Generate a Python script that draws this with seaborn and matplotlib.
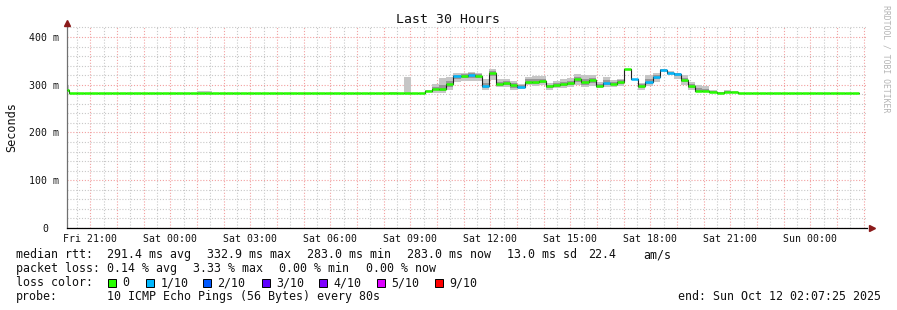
import numpy as np
import pandas as pd
import matplotlib
matplotlib.use("Agg")
import matplotlib.pyplot as plt
import matplotlib.dates as mdates
from matplotlib.patches import Rectangle
from matplotlib.ticker import MultipleLocator, FixedLocator, FuncFormatter
from matplotlib.transforms import ScaledTranslation
import seaborn as sns

# ------------------------------------------------------------------ data
title = "Last 30 Hours"
t_start = "2025-10-10 20:07:25"
t_end = "2025-10-12 02:07:25"
first_full_bin = "2025-10-10 20:13:00"
n_full_bins = 111
bin_freq = "16min"

active_median = [292, 292, 301.6, 318, 319, 320, 319, 298, 324, 301, 304, 299.5, 296,
                 306, 306, 308.5, 297, 299.5, 301, 303, 311, 305, 310, 297, 304, 302,
                 305, 333, 312, 297, 305, 315.5, 331, 325, 322, 310, 298, 287.5, 287.5,
                 285.5, 283.5, 285, 284]
active_lo = [283, 283, 289, 306, 308, 308, 308, 288, 310, 296, 296, 289, 291,
             299, 298, 299, 290, 293, 294, 296, 300, 296, 298, 293, 296, 296,
             298, 330, 311, 289, 298, 306, 327, 321, 313, 300, 289, 284, 284,
             284, 283, 283, 283]
active_hi = [301, 314, 316, 325, 324, 327, 324, 311, 333, 311, 311, 308, 301,
             317, 318, 319, 304, 308, 312, 314, 322, 320, 321, 306, 316, 310,
             313, 334, 313, 304, 321, 324, 333, 328, 325, 320, 306, 299.5, 297,
             289, 285, 288, 286]
active_ilo = [288, 287, 296, 313, 315, 315, 315, 293, 318, 298, 300, 294, 293,
              302, 302, 304, 293, 296, 297, 299, 305, 300, 304, 295, 300, 299,
              301, 332, 311, 293, 301, 311, 329, 323, 318, 305, 293, 285, 285,
              284, 283, 284, 283]
active_ihi = [296, 300, 308, 321, 322, 324, 322, 304, 328, 305, 307, 304, 299,
              311, 312, 313, 300, 303, 306, 308, 316, 311, 315, 301, 309, 306,
              309, 334, 313, 301, 312, 320, 332, 327, 324, 315, 302, 293, 292,
              287, 284, 286, 285]
active_loss = [0, 0, 0, 1, 0, 1, 0, 1, 0, 0, 0, 0, 1,
               0, 0, 0, 0, 0, 0, 0, 0, 0, 0, 0, 1, 0,
               0, 0, 1, 0, 1, 1, 1, 1, 1, 0, 0, 0, 0,
               0, 0, 0, 0]

median = [288] + [283] * 50 + [286] + active_median + [283] * 17
smoke_lo = [285] + [283] * 50 + [284] + active_lo + [283] * 17
smoke_hi = ([300] + [283] * 18 + [287, 286] + [283] * 25 + [285, 283, 317, 283, 283]
            + [288] + active_hi + [283] * 17)
inner_lo = [287] + [283] * 50 + [285] + active_ilo + [283] * 17
inner_hi = [292] + [283] * 50 + [287] + active_ihi + [283] * 17
loss = [0] * 52 + active_loss + [0] * 17

loss_labels = ["0", "1/10", "2/10", "3/10", "4/10", "5/10", "9/10"]
loss_colors = ["#26ff00", "#00b8ff", "#0059ff", "#5e00ff", "#7e00ff", "#dd00ff", "#ff0000"]

y_ticks = [0, 100, 200, 300, 400]
y_ticklabels = ["0", "100 m", "200 m", "300 m", "400 m"]

rtt_label = "median rtt:"
rtt_stats = ["291.4 ms avg", "332.9 ms max", "283.0 ms min", "283.0 ms now",
             "13.0 ms sd", "22.4", "am/s"]
loss_label = "packet loss:"
loss_stats = ["0.14 % avg", "3.33 % max", "0.00 % min", "0.00 % now"]
probe_label = "probe:"
probe_text = "10 ICMP Echo Pings (56 Bytes) every 80s"
end_text = "end: Sun Oct 12 02:07:25 2025"
watermark = "RRDTOOL / TOBI OETIKER"

# ------------------------------------------------------------------ figure
W, H = 897, 310
sns.set_theme(style="white")
MONO = ["DejaVu Sans Mono", "DejaVu Sans"]
plt.rcParams["font.family"] = MONO

fig = plt.figure(figsize=(W / 100, H / 100), dpi=100, facecolor="white")
ax = fig.add_axes([67 / W, 82 / H, 800 / W, 202 / H])
ax.set_facecolor("white")

edges = [pd.Timestamp(t_start)] + list(pd.date_range(first_full_bin, periods=n_full_bins + 1, freq=bin_freq))
edges_num = mdates.date2num(edges)

# smoke
ax.stairs(smoke_hi, edges_num, baseline=smoke_lo, fill=True, color="#c6c6c6", lw=0, zorder=2)
ax.stairs(inner_hi, edges_num, baseline=inner_lo, fill=True, color="#979797", lw=0, zorder=2.1)

# median step line (black)
df = pd.DataFrame({"t": edges, "rtt": median + [median[-1]]})
sns.lineplot(data=df, x="t", y="rtt", drawstyle="steps-post", color="#202020",
             lw=0.8, estimator=None, ax=ax, zorder=3)

# loss colored median segments
ax.hlines(median, edges_num[:-1], edges_num[1:], colors=[loss_colors[l] for l in loss],
          lw=1.8, zorder=4)

ax.set_xlim(mdates.date2num(pd.Timestamp(t_start)), mdates.date2num(pd.Timestamp(t_end)))
ax.set_ylim(0, 423)

# x axis: hourly red grid, half-hour grey grid, labels every 3h
ax.xaxis.set_major_locator(mdates.HourLocator(interval=1))
ax.xaxis.set_minor_locator(mdates.MinuteLocator(byminute=[30]))
def xfmt(v, pos):
    d = mdates.num2date(v)
    return d.strftime("%a %H:%M") if d.hour % 3 == 0 else ""
ax.xaxis.set_major_formatter(FuncFormatter(xfmt))

ax.yaxis.set_major_locator(FixedLocator(y_ticks))
ax.yaxis.set_minor_locator(MultipleLocator(20))
ax.set_yticklabels(y_ticklabels)

ax.grid(which="major", color="#f2a0a0", linestyle=(0, (1, 1.6)), lw=0.8, zorder=0)
ax.grid(which="minor", color="#c8c8c8", linestyle=(0, (1, 1.6)), lw=0.8, zorder=0)
ax.set_axisbelow(True)

ax.tick_params(axis="both", which="both", direction="out", length=2, width=0.7,
               color="#777777", labelsize=7.1, labelcolor="#111111")
ax.tick_params(axis="x", which="major", pad=2.5)
ax.tick_params(axis="y", which="major", pad=3.5)
ax.tick_params(axis="y", which="minor", length=2)
for lab in ax.get_xticklabels() + ax.get_yticklabels():
    lab.set_fontfamily(MONO)
# "0" sits under the digits column of the other labels
zero_lab = ax.get_yticklabels()[0]
zero_lab.set_transform(zero_lab.get_transform() + ScaledTranslation(-0.11, 0, fig.dpi_scale_trans))

for s in ["top", "right"]:
    ax.spines[s].set_visible(False)
ax.spines["left"].set_color("#707070")
ax.spines["left"].set_linewidth(0.9)
ax.spines["bottom"].set_color("#000000")
ax.spines["bottom"].set_linewidth(0.9)
ax.set_xlabel("")
ax.set_ylabel("")

# axis arrows
ax.plot([0], [1.0 + 3 / 202], marker="^", ms=4.5, color="#8b1a1a", transform=ax.transAxes,
        clip_on=False, zorder=6)
ax.plot([1.0 + 5 / 800], [0], marker=">", ms=4.5, color="#8b1a1a", transform=ax.transAxes,
        clip_on=False, zorder=6)

def ftext(xp, yp, s, **kw):
    kw.setdefault("family", MONO)
    kw.setdefault("color", "#111111")
    return fig.text(xp / W, 1 - yp / H, s, **kw)

ftext(448, 23, title, ha="center", va="baseline", size=9.5)
ftext(12, 127, "Seconds", ha="center", va="center", rotation=90, size=8.6)
ftext(886, 5, watermark, ha="center", va="top", rotation=270, size=5.9, color="#b4b4b4")

FS = 8.4
ftext(16, 258, rtt_label, ha="left", va="baseline", size=FS)
for xp, s in zip([107, 207, 307, 407, 507, 588, 643], rtt_stats):
    ftext(xp, 258, s, ha="left", va="baseline", size=FS)
ftext(16, 272, loss_label, ha="left", va="baseline", size=FS)
for xp, s in zip([107, 193, 279, 366], loss_stats):
    ftext(xp, 272, s, ha="left", va="baseline", size=FS)
ftext(16, 286, "loss color:", ha="left", va="baseline", size=FS)
for xp, lab, col in zip([108, 146, 203, 262, 319, 377, 435], loss_labels, loss_colors):
    fig.patches.append(Rectangle((xp / W, 1 - 286.5 / H), 7.5 / W, 7.5 / H, facecolor=col,
                                 edgecolor="black", lw=0.7, transform=fig.transFigure))
    ftext(xp + 14.5, 286, lab, ha="left", va="baseline", size=FS)
ftext(16, 300, probe_label, ha="left", va="baseline", size=FS)
ftext(107, 300, probe_text, ha="left", va="baseline", size=FS)
ftext(678, 300, end_text, ha="left", va="baseline", size=FS)

fig.savefig("out.png", dpi=100, facecolor="white")
